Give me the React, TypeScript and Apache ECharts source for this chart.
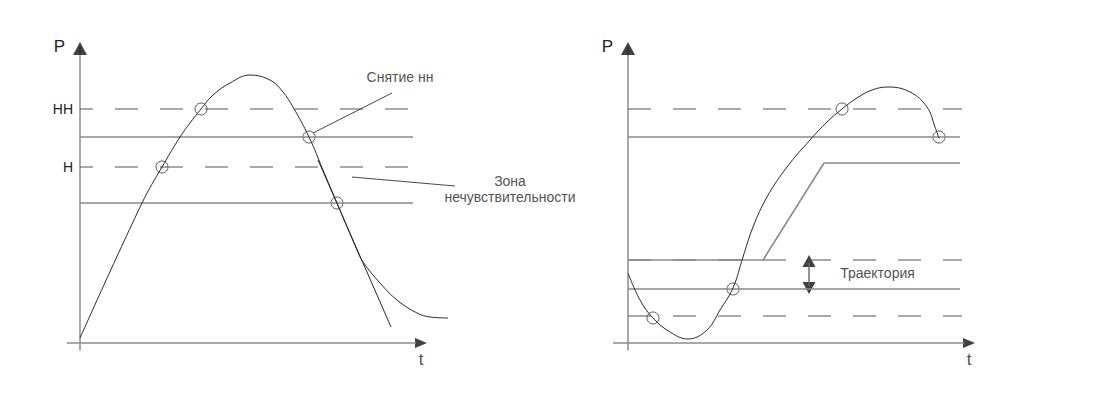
import React, { useEffect, useRef } from "react";
import * as echarts from "echarts";

type Pt = [number, number];

// ---- Left panel (t, P) ----
const curveLeft: Pt[] = [
  [0, 5], [62, 140], [82, 176], [100, 206], [110, 220], [121, 234], [133, 248],
  [150, 260], [170, 268], [190, 263], [203, 251], [213, 236], [229, 206],
  [243, 173], [257, 140], [277, 93], [283, 81], [300, 60], [317, 43], [337, 30],
  [350, 26], [368, 25],
];
const tangentLeft: Pt[] = [[238, 183], [311, 16]];
const circlesLeft: Pt[] = [[82, 176], [121, 234], [229, 206], [257, 140]];
const dashedLeft = [234, 176];
const solidLeft = [206, 140];
const leaderSnyatie: Pt[] = [[233, 210], [312, 250]];
const leaderZona: Pt[] = [[272, 166], [375, 157]];
const levelTicks = [234, 176];
const levelTickLabels = ["НН", "Н"];

// ---- Right panel (t, P) ----
const curveRight: Pt[] = [
  [0, 70], [12, 43], [25, 25], [42, 11], [60, 4], [79, 13], [92, 33], [105, 55],
  [115, 86], [125, 116], [139, 146], [159, 176], [182, 203], [199, 221], [214, 234],
  [229, 245], [244, 253], [260, 256], [282, 251], [299, 236], [307, 216], [311, 205],
];
const circlesRight: Pt[] = [[25, 25], [105, 54], [214, 234], [311, 206]];
const dashedRight = [234, 83, 27];
const solidRight = [206, 54];
const trajectory: Pt[] = [[0, 83], [135, 83], [196, 180], [332, 180]];
const bandArrow: Pt[] = [[181, 80], [181, 57]];
const bandArrowHeads: Pt[] = [[181, 82], [181, 55]];

// ---- Axes (t, P) ----
const tAxisLine: Pt[] = [[-13, 0], [336, 0]];
const tAxisLineRight: Pt[] = [[-15, 0], [336, 0]];
const arrowUp: Pt = [0, 294.5];
const arrowRight: Pt = [341, 0];
const tLabelAt: Pt = [341, -16];

// ---- Text labels ----
const textLeft = [
  { at: [320, 266] as Pt, text: "Снятие нн" },
  { at: [430, 154] as Pt, text: "Зона\nнечувствительности" },
];
const textRight = [{ at: [249.5, 70] as Pt, text: "Траектория" }];

const FONT = "'Liberation Sans', Arial, Helvetica, sans-serif";
const AXIS = { color: "#8c8c8c", width: 1.5 };
const SOLID = { color: "#8a8a8a", width: 1.6 };
const DASHED = { color: "#555", width: 1.2, type: [23, 22] as number[] };
const CURVE = { color: "#2a2a2a", width: 1 };
const THIN = { color: "#333", width: 0.9 };

function lineSeries(g: number, data: Pt[], style: any, smooth: number | boolean = false) {
  return {
    type: "line",
    xAxisIndex: g,
    yAxisIndex: g,
    data,
    symbol: "none",
    smooth,
    smoothConstraint: false,
    clip: false,
    silent: true,
    lineStyle: style,
  };
}

function circles(g: number, data: Pt[]) {
  return {
    type: "scatter",
    xAxisIndex: g,
    yAxisIndex: g,
    data,
    symbol: "circle",
    symbolSize: 12,
    clip: false,
    silent: true,
    itemStyle: { color: "rgba(0,0,0,0)", borderColor: "#333", borderWidth: 1 },
  };
}

function texts(g: number, items: { at: Pt; text: string; size?: number }[]) {
  return {
    type: "scatter",
    xAxisIndex: g,
    yAxisIndex: g,
    symbolSize: 1,
    clip: false,
    silent: true,
    itemStyle: { color: "rgba(0,0,0,0)" },
    data: items.map((it) => ({
      value: it.at,
      label: {
        show: true,
        position: "inside",
        formatter: it.text,
        color: "#222",
        fontSize: it.size ?? 14,
        fontFamily: FONT,
        lineHeight: 16,
        align: "center",
      },
    })),
  };
}

function arrows(g: number) {
  return {
    type: "scatter",
    xAxisIndex: g,
    yAxisIndex: g,
    symbol: "triangle",
    clip: false,
    silent: true,
    itemStyle: { color: "#111" },
    data: [
      { value: arrowUp, symbolSize: [14, 13], symbolRotate: 0 },
      { value: arrowRight, symbolSize: [10, 12], symbolRotate: -90 },
    ],
  };
}

function makeAxes(g: number, minT: number) {
  const xAxis = {
    type: "value",
    gridIndex: g,
    min: minT,
    max: 380,
    axisLine: { show: false, onZero: true },
    axisTick: { show: false },
    axisLabel: { show: false },
    splitLine: { show: false },
  };
  const yAxis: any = {
    type: "value",
    gridIndex: g,
    min: -7,
    max: 295,
    name: "P",
    nameLocation: "end",
    nameGap: 2,
    nameTextStyle: {
      fontSize: 17,
      fontFamily: FONT,
      color: "#222",
      align: "right",
      verticalAlign: "middle",
      padding: [0, 15, 0, 0],
    },
    axisLine: { show: true, onZero: true, lineStyle: AXIS },
    axisTick: { show: false },
    splitLine: { show: false },
    axisLabel: { show: false },
  };
  if (g === 0) {
    yAxis.axisLabel = {
      show: true,
      customValues: levelTicks,
      margin: -6,
      fontSize: 14,
      fontFamily: FONT,
      color: "#222",
      formatter: (v: number) => levelTickLabels[levelTicks.indexOf(v)] ?? "",
    };
  }
  return { xAxis, yAxis };
}

export default function App() {
  const ref = useRef<HTMLDivElement>(null);
  useEffect(() => {
    document.body.style.margin = "0";
    if (!ref.current) return;
    const chart = echarts.init(ref.current, undefined, { renderer: "svg" });
    const a0 = makeAxes(0, -13);
    const a1 = makeAxes(1, -15);
    const series: any[] = [];
    // left panel
    series.push(lineSeries(0, tAxisLine, AXIS));
    dashedLeft.forEach((p) => series.push(lineSeries(0, [[0, p], [335, p]], { ...DASHED, dashOffset: 10 })));
    solidLeft.forEach((p) => series.push(lineSeries(0, [[0, p], [333, p]], SOLID)));
    series.push(lineSeries(0, curveLeft, CURVE, 0.4));
    series.push(lineSeries(0, tangentLeft, CURVE));
    series.push(lineSeries(0, leaderSnyatie, THIN));
    series.push(lineSeries(0, leaderZona, THIN));
    series.push(circles(0, circlesLeft));
    series.push(texts(0, [...textLeft, { at: tLabelAt, text: "t", size: 17 }]));
    series.push(arrows(0));
    // right panel
    series.push(lineSeries(1, tAxisLineRight, AXIS));
    dashedRight.forEach((p) => series.push(lineSeries(1, [[0, p], [334, p]], DASHED)));
    solidRight.forEach((p) => series.push(lineSeries(1, [[0, p], [332, p]], SOLID)));
    series.push(lineSeries(1, trajectory, SOLID));
    series.push(lineSeries(1, curveRight, CURVE, 0.4));
    series.push(lineSeries(1, bandArrow, { color: "#666", width: 1.4 }));
    series.push({
      type: "scatter",
      xAxisIndex: 1,
      yAxisIndex: 1,
      symbol: "triangle",
      clip: false,
      silent: true,
      itemStyle: { color: "#111" },
      data: [
        { value: bandArrowHeads[0], symbolSize: [13, 12], symbolRotate: 0 },
        { value: bandArrowHeads[1], symbolSize: [13, 12], symbolRotate: 180 },
      ],
    });
    series.push(circles(1, circlesRight));
    series.push(texts(1, [...textRight, { at: tLabelAt, text: "t", size: 17 }]));
    series.push(arrows(1));

    chart.setOption({
      animation: false,
      backgroundColor: "#fff",
      grid: [
        { left: 67, top: 48, width: 393, height: 302, containLabel: false },
        { left: 613, top: 48, width: 395, height: 302, containLabel: false },
      ],
      xAxis: [a0.xAxis, a1.xAxis],
      yAxis: [a0.yAxis, a1.yAxis],
      series,
    });
    return () => chart.dispose();
  }, []);
  return <div ref={ref} style={{ width: 1100, height: 400 }} />;
}
